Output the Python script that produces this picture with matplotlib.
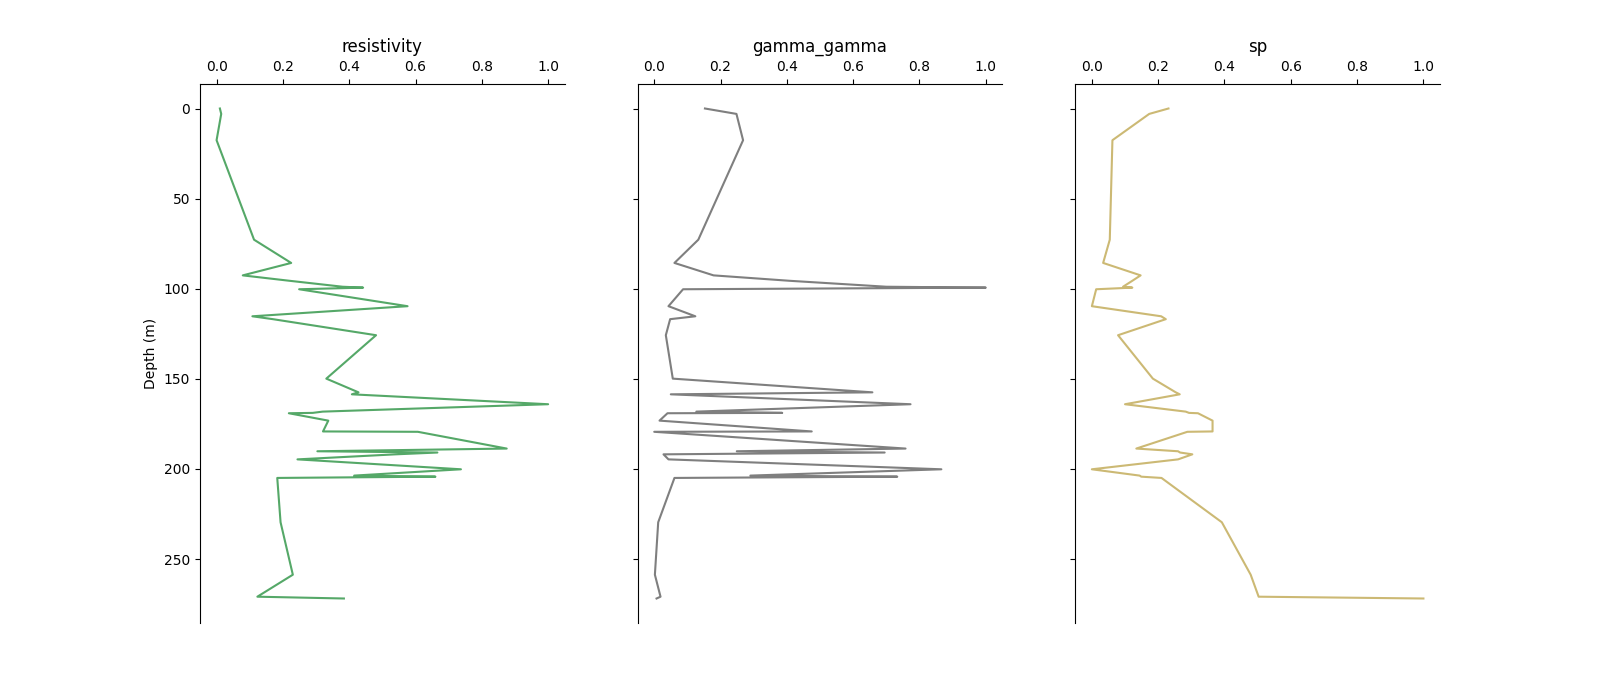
import matplotlib

matplotlib.use("Agg")
import matplotlib.pyplot as plt  # noqa: E402

# depth samples (m), shared by all three logs
depth = [0.0, 3.0, 17.6, 72.8, 85.7, 92.6, 95.6, 98.9, 99.4, 100.3, 109.7, 115.3,
         116.9, 125.8, 149.9, 157.5, 158.6, 164.1, 168.2, 168.9, 169.1, 173.2,
         179.2, 179.4, 188.7, 190.2, 190.9, 191.9, 194.7, 200.2, 203.7, 204.3,
         205.0, 229.6, 258.7, 270.9, 271.9]

resistivity = [0.010, 0.014, 0.0, 0.113, 0.225, 0.079, 0.22, 0.38, 0.442, 0.249,
               0.576, 0.108, 0.17, 0.481, 0.331, 0.428, 0.408, 1.0, 0.32, 0.29,
               0.218, 0.337, 0.321, 0.607, 0.875, 0.304, 0.666, 0.54, 0.244,
               0.737, 0.415, 0.660, 0.183, 0.193, 0.230, 0.123, 0.384]

gamma_gamma = [0.153, 0.248, 0.268, 0.133, 0.061, 0.179, 0.408, 0.70, 1.0, 0.087,
               0.043, 0.124, 0.048, 0.035, 0.056, 0.658, 0.050, 0.773, 0.127,
               0.386, 0.040, 0.016, 0.475, 0.0, 0.758, 0.249, 0.695, 0.028,
               0.043, 0.866, 0.290, 0.733, 0.061, 0.012, 0.002, 0.019, 0.007]

sp = [0.231, 0.173, 0.062, 0.054, 0.034, 0.147, 0.122, 0.094, 0.122, 0.013,
      0.0, 0.209, 0.223, 0.079, 0.184, 0.253, 0.265, 0.100, 0.283, 0.293,
      0.320, 0.364, 0.364, 0.288, 0.134, 0.260, 0.266, 0.303, 0.260, 0.0,
      0.144, 0.149, 0.210, 0.392, 0.479, 0.503, 1.0]

logs = ["resistivity", "gamma_gamma", "sp"]
values = [resistivity, gamma_gamma, sp]
colors = ["#55a868", "#7f7f7f", "#ccb974"]

fig, axes = plt.subplots(1, 3, figsize=(16, 7), sharey=True)
for ax, name, vals, c in zip(axes, logs, values, colors):
    ax.plot(vals, depth, color=c, lw=1.5)
    ax.set_title(name)
    ax.xaxis.set_ticks_position("top")
    ax.xaxis.set_label_position("top")
    ax.spines["right"].set_visible(False)
    ax.spines["bottom"].set_visible(False)
axes[0].invert_yaxis()
axes[0].set_ylabel("Depth (m)")

plt.savefig("out.png", dpi=100)
plt.close()
